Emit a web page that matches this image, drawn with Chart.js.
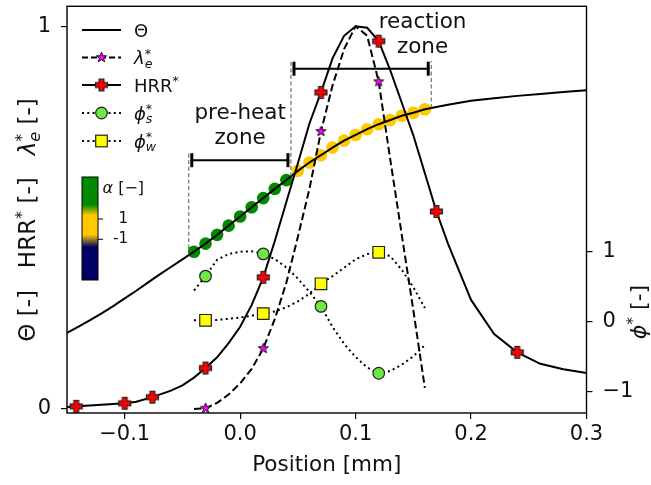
<!DOCTYPE html>
<html lang="en">
<head>
<meta charset="UTF-8"/>
<title>Flame structure profiles</title>
<script src="https://cdn.jsdelivr.net/npm/chart.js@4.4.1/dist/chart.umd.min.js"></script>
<style>
  *{margin:0;padding:0;box-sizing:border-box}
  body{background:#fff;width:651px;height:485px;overflow:hidden}
  #wrap{width:651px;height:485px}
</style>
</head>
<body>
<div id="wrap"><canvas id="c" width="651" height="485"></canvas></div>
<script>
// ---- values ----
const thetaX = [-0.15,-0.14,-0.13,-0.12,-0.11,-0.1,-0.09,-0.08,-0.07,-0.06,-0.05,-0.04,-0.03,-0.02,-0.01,0,0.01,0.02,0.03,0.04,0.05,0.06,0.07,0.08,0.09,0.1,0.11,0.12,0.13,0.14,0.15,0.16,0.17,0.18,0.19,0.2,0.22,0.24,0.26,0.28,0.3];
const thetaY = [0.199,0.215,0.232,0.25,0.269,0.289,0.309,0.33,0.351,0.371,0.391,0.411,0.432,0.455,0.479,0.503,0.527,0.551,0.575,0.598,0.622,0.644,0.663,0.683,0.701,0.716,0.731,0.744,0.755,0.766,0.774,0.783,0.789,0.795,0.8,0.805,0.812,0.818,0.823,0.828,0.833];

// alpha-coloured dots sitting on the Theta curve
const alphaX = [-0.04,-0.03,-0.02,-0.01,0,0.01,0.02,0.03,0.04,0.05,0.06,0.07,0.08,0.09,0.1,0.11,0.12,0.13,0.14,0.15,0.16];

const hrrX = [-0.15,-0.142,-0.13,-0.12,-0.11,-0.1,-0.09,-0.076,-0.06,-0.05,-0.04,-0.03,-0.02,-0.01,0,0.01,0.02,0.03,0.04,0.05,0.06,0.07,0.08,0.09,0.1,0.11,0.12,0.13,0.14,0.15,0.16,0.17,0.18,0.19,0.2,0.22,0.24,0.26,0.28,0.3];
const hrrY = [0.005,0.007,0.009,0.011,0.013,0.015,0.019,0.031,0.048,0.062,0.082,0.107,0.135,0.172,0.215,0.272,0.344,0.439,0.541,0.642,0.746,0.827,0.916,0.975,1.0,0.996,0.961,0.885,0.8,0.715,0.616,0.516,0.432,0.358,0.285,0.196,0.148,0.118,0.104,0.094];
const hrrMarks = [-0.142,-0.1,-0.076,-0.03,0.02,0.07,0.12,0.17,0.24];

const lamX = [-0.04,-0.03,-0.02,-0.01,0,0.01,0.02,0.03,0.04,0.05,0.06,0.07,0.08,0.09,0.1,0.11,0.12,0.13,0.14,0.15,0.16];
const lamY = [0,0.002,0.016,0.038,0.067,0.105,0.158,0.235,0.33,0.45,0.575,0.725,0.845,0.94,1.0,0.975,0.855,0.652,0.455,0.258,0.055];

const phiX = [-0.04,-0.03,-0.02,-0.01,0,0.01,0.02,0.03,0.04,0.05,0.06,0.07,0.08,0.09,0.1,0.11,0.12,0.13,0.14,0.15,0.16];
const phiS = [0.44,0.645,0.88,0.96,0.995,1.0,0.963,0.89,0.77,0.61,0.42,0.213,-0.08,-0.32,-0.51,-0.66,-0.742,-0.71,-0.62,-0.5,-0.34];
const phiW = [0.014,0.014,0.02,0.035,0.055,0.08,0.11,0.14,0.2,0.285,0.394,0.536,0.645,0.765,0.885,0.96,0.986,0.93,0.735,0.488,0.19];
const sampleMarks = [-0.03,0.02,0.07,0.12];

const xTicks = [-0.1,0,0.1,0.2,0.3];
const yTicks = [0,1];
const y2Ticks = [-1,0,1];

// zone boundaries (mm) and bracket heights (left axis units)
const zoneEdge = [-0.0445, 0.044, 0.1655];
const zoneTop = [0.668, 0.909, 0.909];
const preheatBar = 0.65, reactionBar = 0.889;

const FONT = '"DejaVu Sans", sans-serif';
const GREEN = '#008a00', GOLD = '#ffc800', NAVY = '#000066';
const LIGHTGREEN = '#6ee846', YELLOW = '#ffff00';

function thetaAt(v){
  for(let i=1;i<thetaX.length;i++){
    if(v<=thetaX[i]){const t=(v-thetaX[i-1])/(thetaX[i]-thetaX[i-1]);return thetaY[i-1]+t*(thetaY[i]-thetaY[i-1]);}
  }
  return thetaY[thetaY.length-1];
}
const pts = (xs,ys) => xs.map((v,i)=>({x:v,y:ys[i]}));
const fmt = (v,d) => (v<0?'\u2212':'')+Math.abs(v).toFixed(d);

// marker images
function plusMarker(){
  const s=15,c=document.createElement('canvas');c.width=c.height=s;
  const g=c.getContext('2d'),m=s/2,a=2.4,L=6;
  g.beginPath();
  g.moveTo(m-a,m-L);g.lineTo(m+a,m-L);g.lineTo(m+a,m-a);g.lineTo(m+L,m-a);g.lineTo(m+L,m+a);g.lineTo(m+a,m+a);
  g.lineTo(m+a,m+L);g.lineTo(m-a,m+L);g.lineTo(m-a,m+a);g.lineTo(m-L,m+a);g.lineTo(m-L,m-a);g.lineTo(m-a,m-a);g.closePath();
  g.fillStyle='#ff0000';g.fill();g.lineWidth=1.2;g.strokeStyle='#222';g.stroke();
  return c;
}
function starMarker(){
  const s=13,c=document.createElement('canvas');c.width=c.height=s;
  const g=c.getContext('2d'),m=s/2,R=5.3,r=2.2;
  g.beginPath();
  for(let k=0;k<10;k++){const rr=k%2?r:R,an=-Math.PI/2+k*Math.PI/5;g.lineTo(m+rr*Math.cos(an),m+rr*Math.sin(an));}
  g.closePath();g.fillStyle='#ff00ff';g.fill();g.lineWidth=1;g.strokeStyle='#111';g.stroke();
  return c;
}
const PLUS=plusMarker(), STAR=starMarker();
const markAt = (list,r) => ctx => (ctx.raw && list.includes(ctx.raw.x)) ? r : 0;

// rich text: segments {t,i(talic),s(ize),dy,back}
const SUB={s:0.7,dy:0.22}, SUP={s:0.7,dy:-0.36};
function rich(ctx,segs,x,y,fs,draw){
  let cx=x,prevX=x;
  for(const g of segs){
    const size=fs*(g.s||1);
    ctx.font=(g.i?'italic ':'')+size+'px '+FONT;
    const w=ctx.measureText(g.t).width;
    const sx=g.back?prevX:cx;
    if(draw) ctx.fillText(g.t,sx,y+(g.dy||0)*fs);
    if(g.back) cx=Math.max(cx,sx+w); else {prevX=sx;cx=sx+w;}
  }
  return cx-x;
}
const T_THETA=[{t:'\u0398'}];
const T_LAM=[{t:'\u03bb',i:1},{t:'e',i:1,...SUB},{t:'*',...SUP,back:1}];
const T_HRR=[{t:'HRR'},{t:'*',...SUP}];
const T_PHIS=[{t:'\u03d5',i:1},{t:'s',i:1,...SUB},{t:'*',...SUP,back:1}];
const T_PHIW=[{t:'\u03d5',i:1},{t:'w',i:1,...SUB},{t:'*',...SUP,back:1}];
const T_YLEFT=[{t:'\u0398 [-]   HRR'},{t:'*',...SUP},{t:' [-]   '},{t:'\u03bb',i:1},{t:'e',i:1,...SUB},{t:'*',...SUP,back:1},{t:' [-]'}];
const T_YRIGHT=[{t:'\u03d5',i:1},{t:'*',...SUP},{t:' [-]'}];

const deco={
  id:'deco',
  afterDatasetsDraw(chart){
    const {ctx,scales:{x,y}}=chart;
    ctx.save();
    // zone boundary guides
    ctx.strokeStyle='#555';ctx.lineWidth=1;ctx.setLineDash([4,2.5]);
    zoneEdge.forEach((e,i)=>{
      const px=x.getPixelForValue(e);
      ctx.beginPath();ctx.moveTo(px,y.getPixelForValue(thetaAt(e)));ctx.lineTo(px,y.getPixelForValue(zoneTop[i]));ctx.stroke();
    });
    ctx.setLineDash([]);
    // brackets |-|
    const bracket=(a,b,v)=>{
      const x0=x.getPixelForValue(a)+3,x1=x.getPixelForValue(b)-3,py=y.getPixelForValue(v);
      ctx.strokeStyle='#000';ctx.lineWidth=2;
      ctx.beginPath();ctx.moveTo(x0,py);ctx.lineTo(x1,py);ctx.stroke();
      ctx.lineWidth=3;
      [x0,x1].forEach(px=>{ctx.beginPath();ctx.moveTo(px,py-7);ctx.lineTo(px,py+7);ctx.stroke();});
    };
    bracket(zoneEdge[0],zoneEdge[1],preheatBar);
    bracket(zoneEdge[1],zoneEdge[2],reactionBar);
    // zone labels
    ctx.fillStyle='#111';ctx.font='21.5px '+FONT;ctx.textAlign='center';ctx.textBaseline='middle';
    const lbl=(lines,xv,yvs)=>lines.forEach((s,i)=>ctx.fillText(s,x.getPixelForValue(xv),y.getPixelForValue(yvs[i])));
    lbl(['pre-heat','zone'],0.0,[0.773,0.708]);
    lbl(['reaction','zone'],0.158,[1.011,0.944]);
    ctx.restore();
  },
  afterDraw(chart){
    const {ctx,chartArea:a}=chart;
    ctx.save();
    // frame
    ctx.strokeStyle='#000';ctx.lineWidth=1.4;
    ctx.strokeRect(a.left,a.top,a.right-a.left,a.bottom-a.top);
    // legend
    const rows=[
      {y:30,dash:[],mk:null,txt:T_THETA},
      {y:57.5,dash:[6,3],mk:'star',txt:T_LAM},
      {y:85,dash:[],mk:'plus',txt:T_HRR},
      {y:113,dash:[2,3.3],mk:'circ',txt:T_PHIS},
      {y:141,dash:[2,3.3],mk:'sq',txt:T_PHIW}
    ];
    rows.forEach(r=>{
      ctx.strokeStyle='#000';ctx.lineWidth=2;ctx.setLineDash(r.dash);
      ctx.beginPath();ctx.moveTo(82,r.y);ctx.lineTo(121,r.y);ctx.stroke();ctx.setLineDash([]);
      const mx=101.5;
      if(r.mk==='star') ctx.drawImage(STAR,mx-STAR.width/2,r.y-STAR.height/2);
      if(r.mk==='plus') ctx.drawImage(PLUS,mx-PLUS.width/2,r.y-PLUS.height/2);
      if(r.mk==='circ'){ctx.beginPath();ctx.arc(mx,r.y,5.8,0,2*Math.PI);ctx.fillStyle=LIGHTGREEN;ctx.fill();ctx.lineWidth=1.2;ctx.strokeStyle='#222';ctx.stroke();}
      if(r.mk==='sq'){ctx.fillStyle=YELLOW;ctx.fillRect(mx-5.8,r.y-5.8,11.6,11.6);ctx.lineWidth=1.2;ctx.strokeStyle='#222';ctx.strokeRect(mx-5.8,r.y-5.8,11.6,11.6);}
      ctx.fillStyle='#111';ctx.textAlign='left';ctx.textBaseline='alphabetic';
      rich(ctx,r.txt,134,r.y+6.5,18,true);
    });
    // colour bar for alpha
    const cb={x:82,y:177,w:16,h:103};
    const gr=ctx.createLinearGradient(0,cb.y,0,cb.y+cb.h);
    gr.addColorStop(0,GREEN);gr.addColorStop(0.27,GREEN);gr.addColorStop(0.37,GOLD);
    gr.addColorStop(0.56,GOLD);gr.addColorStop(0.68,NAVY);gr.addColorStop(1,NAVY);
    ctx.fillStyle=gr;ctx.fillRect(cb.x,cb.y,cb.w,cb.h);
    ctx.lineWidth=1;ctx.strokeStyle='#000';ctx.strokeRect(cb.x,cb.y,cb.w,cb.h);
    ctx.fillStyle='#111';ctx.font='15px '+FONT;ctx.textAlign='right';ctx.textBaseline='middle';
    [[219,'1'],[239.3,'-1']].forEach(([ty,s])=>{
      ctx.beginPath();ctx.moveTo(cb.x+cb.w,ty);ctx.lineTo(cb.x+cb.w+5,ty);ctx.stroke();
      ctx.fillText(s,128,ty);
    });
    ctx.textAlign='left';ctx.textBaseline='alphabetic';
    rich(ctx,[{t:'\u03b1',i:1},{t:' [\u2212]'}],102.5,193,16,true);
    // axis titles
    ctx.font='21.5px '+FONT;
    ctx.textBaseline='middle';ctx.textAlign='center';
    ctx.fillText('Position [mm]',(a.left+a.right)/2,465);
    ctx.textAlign='left';ctx.textBaseline='alphabetic';
    const drawRot=(segs,cx,cy,fs)=>{
      const w=rich(ctx,segs,0,0,fs,false);
      ctx.save();ctx.translate(cx,cy);ctx.rotate(-Math.PI/2);
      rich(ctx,segs,-w/2,fs*0.36,fs,true);ctx.restore();
    };
    drawRot(T_YLEFT,27,220,23);
    drawRot(T_YRIGHT,638,312,22);
    ctx.restore();
  }
};

const tickFont={family:FONT,size:21};
const gridOpts={drawOnChartArea:false,drawTicks:true,tickLength:6,color:'#000',lineWidth:1.2};
const noPad=s=>{s.paddingTop=0;s.paddingBottom=0;s.paddingLeft=0;s.paddingRight=0;};

new Chart(document.getElementById('c'),{
  type:'line',
  data:{datasets:[
    {label:'HRR*',data:pts(hrrX,hrrY),yAxisID:'y',borderColor:'#000',borderWidth:2,
     pointStyle:PLUS,pointRadius:markAt(hrrMarks,6),order:3},
    {label:'lambda_e*',data:pts(lamX,lamY),yAxisID:'y',borderColor:'#000',borderWidth:2,borderDash:[7.5,3.5],
     pointStyle:STAR,pointRadius:markAt(sampleMarks,5),order:4},
    {label:'phi_s*',data:pts(phiX,phiS),yAxisID:'y2',borderColor:'#000',borderWidth:2,borderDash:[2,3.3],
     pointStyle:'circle',pointRadius:markAt(sampleMarks,5.8),pointBackgroundColor:LIGHTGREEN,pointBorderColor:'#222',pointBorderWidth:1.2,order:5},
    {label:'phi_w*',data:pts(phiX,phiW),yAxisID:'y2',borderColor:'#000',borderWidth:2,borderDash:[2,3.3],
     pointStyle:'rect',pointRadius:markAt(sampleMarks,8.2),pointBackgroundColor:YELLOW,pointBorderColor:'#222',pointBorderWidth:1.2,order:6},
    {label:'Theta',data:pts(thetaX,thetaY),yAxisID:'y',borderColor:'#000',borderWidth:2,pointRadius:0,order:8},
    {label:'alpha',data:alphaX.map(v=>({x:v,y:thetaAt(v)})),yAxisID:'y',showLine:false,pointRadius:6.3,borderWidth:0,
     pointBorderWidth:0,pointBackgroundColor:alphaX.map(v=>v<zoneEdge[1]?GREEN:GOLD),order:9}
  ]},
  options:{
    responsive:false,animation:false,devicePixelRatio:1,events:[],
    layout:{padding:{top:5,left:0,right:0,bottom:0}},
    plugins:{legend:{display:false},tooltip:{enabled:false}},
    scales:{
      x:{type:'linear',min:-0.15,max:0.3,
         afterBuildTicks:s=>{s.ticks=xTicks.map(v=>({value:v}));},
         afterFit:s=>{s.height=72;noPad(s);},
         grid:gridOpts,border:{display:false},
         ticks:{color:'#111',font:tickFont,padding:3,maxRotation:0,autoSkip:false,callback:v=>fmt(v,1)}},
      y:{type:'linear',position:'left',min:-0.0104,max:1.052,
         afterBuildTicks:s=>{s.ticks=yTicks.map(v=>({value:v}));},
         afterFit:s=>{s.width=67;noPad(s);},
         grid:gridOpts,border:{display:false},
         ticks:{color:'#111',font:tickFont,padding:10,callback:v=>fmt(v,0)}},
      y2:{type:'linear',position:'right',min:-1.31,max:4.5,
         afterBuildTicks:s=>{s.ticks=y2Ticks.map(v=>({value:v}));},
         afterFit:s=>{s.width=64.5;noPad(s);},
         grid:gridOpts,border:{display:false},
         ticks:{color:'#111',font:tickFont,padding:10,callback:v=>fmt(v,0)}}
    }
  },
  plugins:[deco]
});
</script>
</body>
</html>
